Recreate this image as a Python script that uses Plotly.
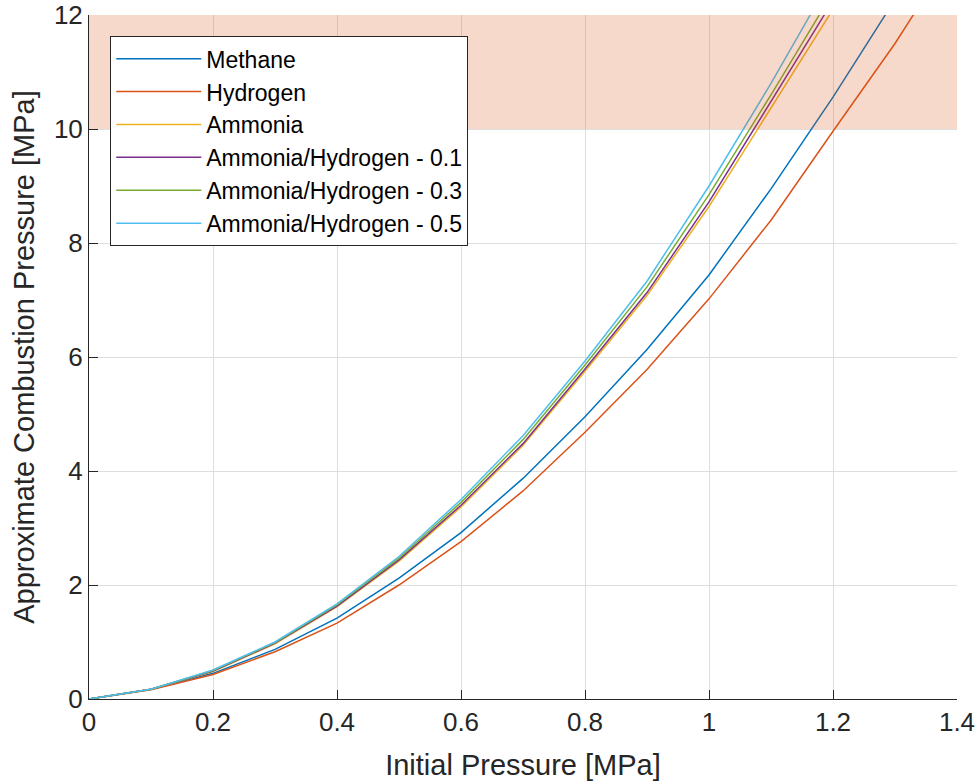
import plotly.graph_objects as go

initial_pressure = [0.0, 0.1, 0.2, 0.3, 0.4, 0.5, 0.6, 0.7, 0.8, 0.9, 1.0, 1.1, 1.2, 1.3, 1.4]

methane = [0, 0.17, 0.45, 0.87, 1.42, 2.12, 2.92, 3.87, 4.95, 6.13, 7.44, 8.95, 10.56, 12.27, 14.1]
hydrogen = [0, 0.16, 0.43, 0.83, 1.33, 2.00, 2.76, 3.65, 4.68, 5.78, 7.02, 8.40, 9.96, 11.5, 13.2]
ammonia = [0, 0.17, 0.48, 0.97, 1.62, 2.42, 3.37, 4.45, 5.75, 7.08, 8.64, 10.36, 12.1, 13.9, 15.8]
amm_h2_01 = [0, 0.17, 0.49, 0.98, 1.63, 2.44, 3.40, 4.48, 5.79, 7.13, 8.72, 10.47, 12.25, 14.1, 16.0]
amm_h2_03 = [0, 0.17, 0.50, 0.99, 1.65, 2.47, 3.45, 4.55, 5.86, 7.23, 8.85, 10.6, 12.4, 14.3, 16.2]
amm_h2_05 = [0, 0.17, 0.51, 1.00, 1.67, 2.50, 3.50, 4.62, 5.93, 7.33, 9.00, 10.8, 12.7, 14.6, 16.5]

series_names = ["Methane", "Hydrogen", "Ammonia", "Ammonia/Hydrogen - 0.1",
                "Ammonia/Hydrogen - 0.3", "Ammonia/Hydrogen - 0.5"]
series_values = [methane, hydrogen, ammonia, amm_h2_01, amm_h2_03, amm_h2_05]
series_colors = ["#0072BD", "#D95319", "#EDB120", "#7E2F8E", "#77AC30", "#4DBEEE"]

x_ticks = [0, 0.2, 0.4, 0.6, 0.8, 1.0, 1.2, 1.4]
x_tick_labels = ["0", "0.2", "0.4", "0.6", "0.8", "1", "1.2", "1.4"]
y_ticks = [0, 2, 4, 6, 8, 10, 12]

danger_low, danger_high = 10, 12

FONT = "Liberation Sans, Arial, sans-serif"
TXT = "#262626"

fig = go.Figure()
for name, vals, col in zip(series_names, series_values, series_colors):
    fig.add_trace(go.Scatter(x=initial_pressure, y=vals, mode="lines", name=name,
                             line=dict(color=col, width=1.5)))

fig.add_shape(type="rect", xref="paper", yref="y", x0=0, x1=1, y0=danger_low, y1=danger_high,
              fillcolor="rgb(217,83,25)", opacity=0.22, line=dict(width=0), layer="above")

axis_common = dict(showgrid=True, gridcolor="rgb(222,222,222)", gridwidth=1,
                   showline=True, linecolor=TXT, linewidth=1,
                   ticks="inside", ticklen=9, tickcolor=TXT, tickwidth=1,
                   zeroline=False, automargin=False,
                   tickfont=dict(family=FONT, size=26, color=TXT))

fig.update_xaxes(range=[0, 1.4], tickvals=x_ticks, ticktext=x_tick_labels,
                 title=dict(text="Initial Pressure [MPa]", font=dict(family=FONT, size=29, color=TXT),
                            standoff=18),
                 **axis_common)
fig.update_yaxes(range=[0, 12], tickvals=y_ticks,
                 title=dict(text="Approximate Combustion Pressure [MPa]",
                            font=dict(family=FONT, size=29, color=TXT), standoff=10),
                 **axis_common)

fig.update_layout(
    width=979, height=783,
    margin=dict(l=89, r=22, t=15, b=84),
    plot_bgcolor="white", paper_bgcolor="white",
    font=dict(family=FONT, color=TXT),
    legend=dict(x=0.0245, y=0.969, xanchor="left", yanchor="top",
                bgcolor="white", bordercolor=TXT, borderwidth=1,
                font=dict(family=FONT, size=23, color="black"),
                itemwidth=85),
    showlegend=True,
)

fig.write_html("out.html")
